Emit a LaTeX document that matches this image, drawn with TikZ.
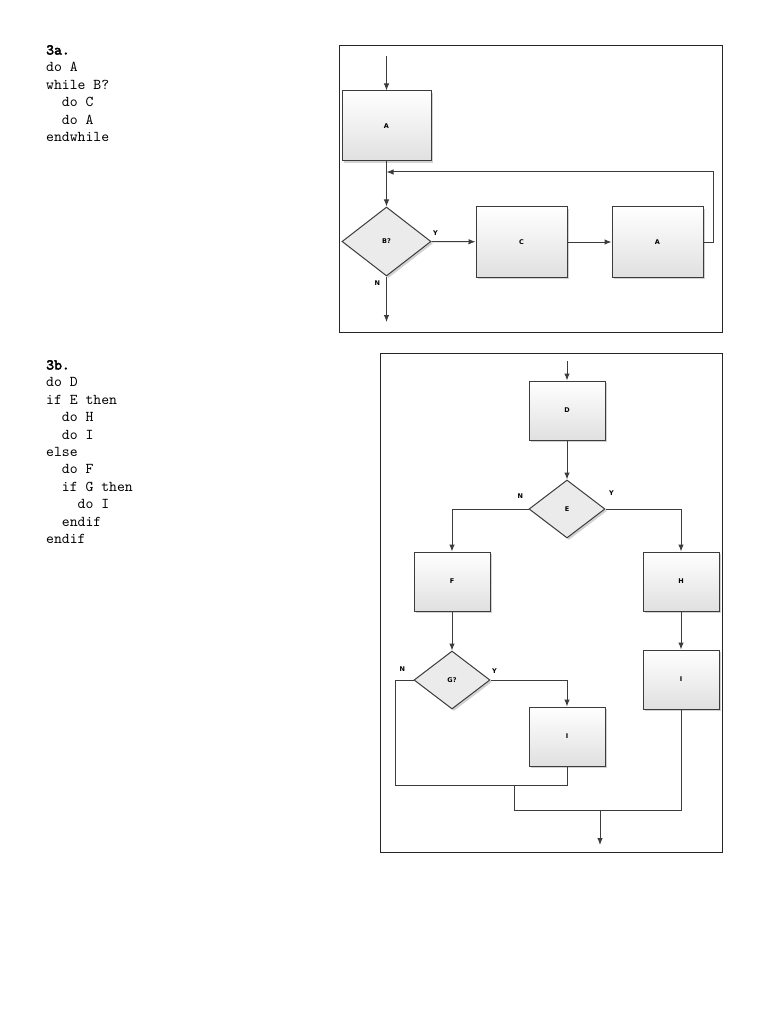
\documentclass[tikz,border=0pt]{standalone}
\usepackage{fontspec}
\setsansfont{DejaVu Sans}
\setmonofont{lmmono10-regular.otf}[BoldFont=lmmono10-regular.otf,BoldFeatures={FakeBold=3}]
\usetikzlibrary{arrows.meta,positioning,shapes.geometric,shadows}
\definecolor{flowline}{HTML}{3C3C3C}
\definecolor{flowfill}{HTML}{E0E0E0}
\definecolor{diafill}{HTML}{EBEBEB}

\begin{document}
\begin{tikzpicture}[x=1pt,y=-1pt,
    code/.style={font=\ttfamily\fontsize{15}{17.4}\selectfont,align=left,inner sep=0pt,anchor=north west},
    proc/.style={draw=flowline,line width=1pt,top color=white,bottom color=flowfill,
        drop shadow={shadow xshift=2pt,shadow yshift=-2pt,opacity=0.35},
        font=\sffamily\bfseries\fontsize{6.5}{7}\selectfont,inner sep=0pt},
    decision/.style={diamond,draw=flowline,line width=1pt,fill=diafill,
        drop shadow={shadow xshift=2pt,shadow yshift=-2pt,opacity=0.35},
        font=\sffamily\bfseries\fontsize{6.5}{7}\selectfont,inner sep=0pt},
    flag/.style={font=\sffamily\bfseries\fontsize{6.5}{7}\selectfont,inner sep=0pt},
    line/.style={draw=flowline,line width=1pt},
    flow/.style={line,-{Latex[length=7pt,width=5.5pt]}},
    framebox/.style={draw=black!85,line width=1pt}]
    \useasboundingbox[fill=white] (0,0) rectangle (768,1024);

    % 3a
    \node[code] (code3a) at (46,45) {\textbf{3a.}\\do A\\while B?\\\ \ do C\\\ \ do A\\endwhile};
    \draw[framebox] (339,46) rectangle (722,332);
    \node[proc,minimum width=89pt,minimum height=70pt] (a1) at (386.5,126) {A};
    \node[decision,minimum width=89pt,minimum height=69pt] (b) at (386.5,241.5) {B?};
    \node[proc,minimum width=91pt,minimum height=70pt] (c) at (521.5,242) {C};
    \node[proc,minimum width=91pt,minimum height=70pt] (a2) at (657.5,242) {A};
    \coordinate (in3a) at (386.5,56);
    \coordinate (loop3a) at (386.5,172);
    \coordinate (out3a) at (386.5,322);
    \draw[flow] (in3a) -- (a1);
    \draw[flow] (a1) -- (b);
    \draw[flow] (b.east) node[flag,above right=5pt and 1pt]{Y} -- (c);
    \draw[flow] (c) -- (a2);
    \draw[flow] (a2.east) -- ++(10,0) |- (loop3a);
    \draw[flow] (b.south) node[flag,below left=4pt and 6pt]{N} -- (out3a);

    % 3b
    \node[code] (code3b) at (46,360) {\textbf{3b.}\\do D\\if E then\\\ \ do H\\\ \ do I\\else\\\ \ do F\\\ \ if G then\\\ \ \ \ do I\\\ \ endif\\endif};
    \draw[framebox] (380,353) rectangle (722,852);
    \node[proc,minimum width=76pt,minimum height=59pt] (d) at (567,410.5) {D};
    \node[decision,minimum width=76pt,minimum height=58pt] (e) at (567,509) {E};
    \node[proc,minimum width=76pt,minimum height=59pt] (f) at (452,581.5) {F};
    \node[proc,minimum width=76pt,minimum height=59pt] (h) at (681,581.5) {H};
    \node[decision,minimum width=76pt,minimum height=58pt] (g) at (452,680) {G?};
    \node[proc,minimum width=76pt,minimum height=59pt] (i1) at (567,736.5) {I};
    \node[proc,minimum width=76pt,minimum height=59pt] (i2) at (681,679.5) {I};
    \coordinate (in3b) at (567,361);
    \coordinate (gloop) at (395,785);
    \coordinate (gjoin) at (514,785);
    \coordinate (fjoin) at (514,810);
    \coordinate (split3b) at (600,810);
    \coordinate (out3b) at (600,845);
    \draw[flow] (in3b) -- (d);
    \draw[flow] (d) -- (e);
    \draw[flow] (e.west) node[flag,above left=10pt and 5pt]{N} -| (f);
    \draw[flow] (e.east) node[flag,above right=13pt and 3pt]{Y} -| (h);
    \draw[flow] (f) -- (g);
    \draw[flow] (h) -- (i2);
    \draw[flow] (g.east) node[flag,above right=6pt and 1pt]{Y} -| (i1);
    \draw[line] (g.west) node[flag,above left=8pt and 8pt]{N} -| (gloop) -| (i1.south);
    \draw[line] (gjoin) -- (fjoin) -| (i2.south);
    \draw[flow] (split3b) -- (out3b);
\end{tikzpicture}
\end{document}
